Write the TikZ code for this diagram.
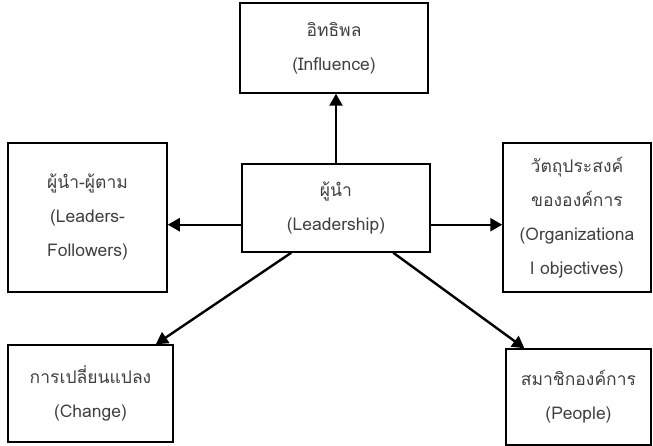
\documentclass[tikz,border=0pt]{standalone}
\usepackage{fontspec}
\usepackage{tikz}
\usetikzlibrary{arrows.meta}
\newfontfamily\thaifont[Script=Thai]{Loma}

\begin{document}
\begin{tikzpicture}[
  x=1pt, y=-1pt,
  box/.style={draw, line width=1.5pt, align=center, text=black!75,
    font=\thaifont\fontsize{17.5}{34}\selectfont, inner sep=2pt},
  link/.style={->, line width=2.4pt},
  >={Triangle[length=12pt,width=13pt]}
]
\useasboundingbox (0,0) rectangle (653,446);

\node[box, minimum width=188pt, minimum height=88pt] (lead) at (336,208) {ผู้นำ\\(Leadership)};
\node[box, minimum width=188pt, minimum height=90pt] (infl) at (334,48) {อิทธิพล\\(Influence)};
\node[box, minimum width=159pt, minimum height=149pt] (foll) at (87.5,217.5) {ผู้นำ-ผู้ตาม\\(Leaders-\\Followers)};
\node[box, minimum width=148pt, minimum height=149pt] (goal) at (577,217.5) {วัตถุประสงค์\\ขององค์การ\\(Organizationa\\l objectives)};
\node[box, minimum width=165pt, minimum height=97pt] (chg) at (90.5,393.5) {การเปลี่ยนแปลง\\(Change)};
\node[box, minimum width=145pt, minimum height=96pt] (ppl) at (578.5,397) {สมาชิกองค์การ\\(People)};

\draw[link] (lead.north) -- (lead.north |- infl.south);
\draw[link] (lead.190) -- (lead.190 -| foll.east);
\draw[link] (lead.-10) -- (lead.-10 -| goal.west);
\draw[link] (lead.225) -- (chg.37);
\draw[link] (lead.-38) -- (ppl.138);
\end{tikzpicture}
\end{document}
